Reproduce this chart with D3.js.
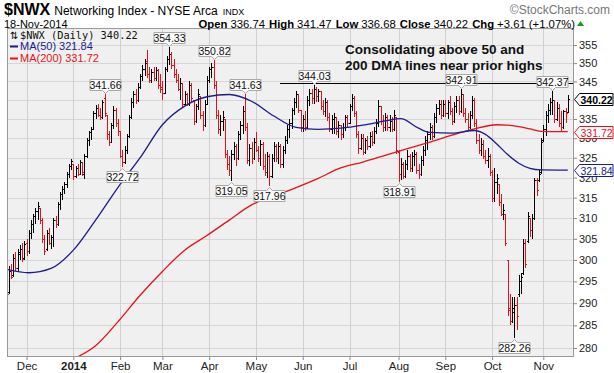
<!DOCTYPE html>
<html><head><meta charset="utf-8">
<script src="https://cdn.jsdelivr.net/npm/d3@7"></script>
<style>body{margin:0;background:#fff}svg{display:block;font-family:"Liberation Sans",Arial,sans-serif}</style>
</head><body><svg id="c" width="614" height="373"></svg>
<script>
// ---------------- data ----------------
const holidays = ["2013-11-28","2013-12-25","2014-01-01","2014-01-20","2014-02-17","2014-04-18","2014-05-26","2014-07-04","2014-09-01"];
const opens = [296.5,292.5,297.5,296.5,300.5,298.0,301.5,302.5,300.5,304.0,302.0,306.5,308.5,310.5,311.8,312.5,309.5,305.0,302.5,306.5,304.0,305.5,309.5,308.5,313.5,315.8,317.2,318.5,320.8,323.0,
323.3,320.5,322.5,321.0,323.8,321.0,325.5,329.5,331.5,332.5,336.5,338.0,336.0,335.5,340.5,336.0,331.0,329.0,333.5,337.5,334.0,
332.0,325.5,324.0,327.0,330.5,335.5,339.5,341.5,340.0,343.5,346.5,348.5,350.5,347.0,345.5,347.5,346.0,348.0,344.0,
343.5,342.0,348.5,351.0,352.5,349.5,347.0,345.5,343.0,344.5,339.0,341.5,339.0,344.0,340.0,334.5,338.5,341.0,336.0,333.5,339.0,
345.5,348.5,349.0,344.0,336.0,332.5,334.5,335.0,326.0,323.5,322.0,326.0,328.0,325.0,331.0,333.5,337.0,333.0,324.5,327.5,325.0,
329.0,327.0,325.0,328.5,323.0,321.5,325.5,320.5,325.0,328.0,325.0,328.0,323.5,327.0,329.5,332.5,334.0,337.5,339.5,341.5,337.5,
333.0,335.0,333.0,340.0,342.0,340.5,343.0,341.0,342.5,338.5,337.0,339.5,335.5,332.5,335.0,335.5,332.0,333.5,331.0,333.0,335.5,
334.0,338.5,340.5,336.5,331.0,327.5,330.0,326.5,329.5,328.0,330.5,329.0,332.0,334.0,338.5,334.5,333.0,335.5,333.0,334.5,332.5,335.5,
326.5,321.0,323.5,320.5,323.5,325.5,322.5,325.5,326.0,322.0,321.0,324.5,327.0,329.5,331.0,333.0,330.5,335.5,338.0,339.0,336.0,
339.0,336.5,339.5,337.0,334.5,338.5,340.0,337.0,341.5,336.5,335.0,333.0,336.0,340.0,334.0,329.5,327.0,328.5,325.5,324.5,325.5,
321.5,315.0,319.0,318.5,314.0,311.0,311.0,300.0,289.0,286.0,288.0,289.5,292.0,295.0,297.0,304.0,304.5,310.0,307.0,310.0,319.5,319.5,321.5,
329.5,332.5,336.0,337.5,339.5,340.0,335.0,338.0,334.0,333.0,337.0,336.74];
const highs = [297.0,298.5,299.0,301.5,301.8,302.5,303.5,304.0,304.5,305.0,307.0,309.5,311.0,312.5,314.0,312.5,310.0,306.0,307.0,307.5,306.0,310.0,310.5,314.0,316.5,318.0,319.0,321.5,323.5,324.6,
323.5,323.0,323.5,324.5,324.0,326.0,330.0,332.0,333.0,337.0,338.7,339.0,338.0,340.0,341.66,336.0,332.0,334.0,338.5,338.0,335.0,
332.0,327.0,328.0,331.0,336.0,340.5,342.5,343.0,344.5,347.0,349.5,351.0,353.5,349.0,348.5,349.0,349.0,348.5,347.0,
345.0,349.0,352.0,354.33,353.0,351.0,348.5,347.0,346.0,344.5,342.5,342.0,345.0,344.5,340.0,339.0,343.0,341.0,337.0,340.0,346.5,
349.0,350.0,350.82,345.0,337.5,336.0,337.0,335.0,327.0,325.5,327.0,329.0,328.5,332.0,334.5,338.5,341.63,334.0,328.5,329.0,330.0,
331.5,328.0,329.5,329.0,326.0,326.5,326.0,326.0,329.0,328.5,329.0,328.5,328.0,330.5,333.5,335.0,338.0,340.5,342.5,341.5,337.5,
336.0,337.0,341.0,343.0,343.0,344.03,343.5,343.0,342.5,340.0,340.5,340.0,336.5,336.0,336.5,335.5,334.5,333.5,334.0,336.0,336.0,
339.0,341.5,341.0,337.0,332.0,331.0,331.0,330.0,330.5,331.5,332.0,333.0,335.0,340.0,338.5,336.0,336.5,336.0,336.0,335.5,337.4,335.6,
327.0,325.0,324.0,324.5,327.0,326.0,326.5,327.0,326.5,323.5,325.5,328.0,330.5,332.0,334.0,333.5,336.5,339.0,340.0,340.0,340.0,
340.0,340.0,341.0,338.0,339.5,341.0,341.0,342.91,341.5,338.0,336.5,337.0,341.0,340.5,335.0,331.0,330.0,329.5,327.0,327.5,326.0,
322.0,322.5,321.0,318.5,316.0,313.5,311.0,300.0,292.0,291.5,291.5,291.5,296.5,297.0,305.0,305.0,311.5,310.0,311.0,320.0,320.0,322.0,330.0,
333.5,337.0,339.0,340.5,342.37,340.0,339.5,339.0,337.0,337.5,338.0,341.47];
const lows = [291.5,292.0,295.5,296.0,297.5,297.5,300.0,299.5,300.0,301.0,301.5,305.0,306.5,308.5,309.5,308.5,304.0,301.2,302.0,303.5,302.5,303.0,307.5,308.0,312.0,314.5,316.0,317.5,320.0,322.0,
319.5,320.0,320.5,320.8,320.4,319.6,325.0,328.0,329.5,332.5,335.0,335.5,334.8,335.0,335.5,329.5,328.0,329.0,332.5,333.0,330.5,
325.0,322.72,323.5,326.0,330.0,335.0,338.0,339.0,339.5,343.0,345.0,346.5,346.0,344.5,344.5,345.0,345.0,343.0,342.0,
340.0,342.0,347.5,349.5,348.5,346.0,344.5,342.5,340.0,338.0,338.5,338.5,338.5,339.5,333.5,334.0,337.5,335.0,332.0,333.0,339.0,
344.5,346.0,343.0,335.0,331.0,330.5,332.0,325.0,322.0,320.5,319.05,324.5,323.0,324.5,329.5,331.0,332.0,323.5,323.0,323.5,324.5,
326.5,324.0,323.0,322.0,320.5,320.0,317.96,320.0,324.0,324.0,323.5,322.5,322.5,326.0,328.5,330.0,332.5,336.0,338.0,336.5,331.5,
331.5,332.0,332.5,338.5,339.0,339.0,339.5,339.5,337.5,336.0,335.5,334.5,331.5,331.0,331.0,330.9,330.0,329.5,330.0,332.0,333.0,
334.0,337.0,335.5,330.0,326.0,327.0,325.6,326.0,327.0,327.5,328.0,328.5,331.0,333.0,333.5,331.5,332.0,332.0,331.5,331.5,332.0,326.0,
318.91,319.5,319.6,320.0,322.0,321.5,321.5,323.0,321.0,319.6,320.5,323.0,325.5,327.0,329.5,329.5,330.0,334.0,336.0,335.0,335.5,
335.5,335.0,336.0,333.5,334.0,336.5,336.0,336.5,335.5,334.0,332.0,332.5,335.0,333.0,328.5,326.0,325.5,324.6,323.5,322.5,320.5,
314.0,314.0,316.0,313.0,310.5,309.5,303.2,287.0,285.0,285.5,282.26,284.0,291.5,292.0,296.5,298.0,304.0,305.5,305.0,309.5,315.5,319.0,321.0,
329.0,330.5,334.0,336.0,336.0,334.0,334.5,333.0,331.5,332.5,334.0,336.68];
const closes = [292.0,297.5,296.0,300.5,298.0,301.8,302.5,300.2,303.8,302.0,306.5,308.5,310.5,311.8,313.0,309.5,305.0,302.0,306.5,304.0,305.5,309.5,308.5,313.5,315.8,317.2,318.5,320.8,323.0,324.2,
320.5,322.5,321.0,323.8,321.5,325.5,329.5,331.5,332.5,336.5,338.0,336.0,335.5,339.5,336.5,331.0,329.0,333.5,337.5,334.0,332.0,
325.5,324.0,327.0,330.5,335.5,339.5,341.5,340.0,343.5,346.5,348.5,350.0,347.0,345.5,347.5,346.0,348.0,344.0,343.0,
342.0,348.5,351.0,352.5,349.5,347.0,345.5,343.0,344.5,339.0,341.5,339.0,344.0,340.5,334.5,338.5,341.5,336.0,333.5,339.0,345.5,
348.5,349.0,344.0,336.0,332.5,334.5,335.5,326.0,323.5,322.0,326.0,328.0,325.0,331.0,333.5,337.0,333.0,324.5,327.5,325.0,329.0,
327.0,325.0,328.5,323.0,321.5,325.5,320.5,325.0,328.0,325.0,328.0,323.5,327.0,329.5,332.5,334.0,337.5,339.5,341.5,337.5,333.0,
335.0,333.0,340.0,342.0,340.5,343.0,341.0,342.5,338.5,337.0,339.5,335.5,332.5,335.0,335.5,332.0,333.5,331.0,333.0,335.5,334.0,
338.5,340.5,336.5,331.0,327.5,330.0,326.5,329.5,328.0,330.5,329.0,332.0,334.0,338.5,334.5,333.0,335.5,333.0,334.5,332.5,336.0,327.0,
321.0,323.5,320.5,323.5,325.5,322.5,325.5,326.0,322.0,321.0,324.5,327.0,329.5,331.0,333.0,330.5,335.5,338.0,339.0,336.0,339.0,
336.5,339.5,337.0,334.5,338.5,340.0,337.0,341.5,336.5,335.0,333.0,336.0,340.0,334.0,329.5,327.0,328.5,325.5,324.5,325.5,321.5,
315.0,319.0,320.0,314.0,311.0,312.0,304.0,288.5,286.0,289.0,289.5,287.0,295.0,296.0,304.0,299.0,310.5,307.0,310.0,319.5,317.0,321.0,329.0,
332.5,336.0,337.5,339.5,340.0,335.0,338.0,334.0,333.0,337.0,336.61,340.22];

const ma50Days   = [0,10,20,30,40,50,60,70,80,90,100,110,120,130,140,150,160,170,177,185,190,200,210,215,220,225,230,235,240,252];
const ma50Values = [297.8,297.0,298.0,302.3,309.5,317.5,325.0,333.5,338.4,340.9,341.5,339.7,335.8,332.8,332.3,332.6,333.4,334.5,335.1,332.6,331.5,331.3,332.0,331.0,328.6,325.8,323.6,322.3,321.9,321.84];
const ma200Days   = [30,40,50,60,70,80,90,100,110,120,130,140,150,160,170,180,190,200,210,220,225,230,235,240,252];
const ma200Values = [277.6,280.5,285.8,291.8,297.3,302.3,305.8,309.5,313.2,315.4,317.5,319.8,322.4,323.9,325.6,327.3,329.0,330.8,332.4,333.5,333.4,333.0,332.4,331.8,331.72];

const highTags = [[44,"341.66"],[73,"354.33"],[93,"350.82"],[107,"341.63"],[138,"344.03"],[204,"342.91"],[245,"342.37"]];
const lowTags  = [[52,"322.72"],[101,"319.05"],[118,"317.96"],[176,"318.91"],[228,"282.26"]];
const yTicks = [280,285,290,295,300,305,310,315,320,325,330,335,345,350,355];
const monthNames = ["Dec","2014","Feb","Mar","Apr","May","Jun","Jul","Aug","Sep","Oct","Nov"];
const resistance = {from:"2014-05-16", value:344.6};
const noteLines = ["Consolidating above 50 and","200 DMA lines near prior highs"];

// ---------------- chart ----------------
const fmt = d3.timeFormat("%Y-%m-%d");
const days = d3.timeDay.range(new Date(2013,10,18), new Date(2014,10,19))
  .filter(d => d.getDay()>0 && d.getDay()<6 && !holidays.includes(fmt(d)));
const keys = days.map(fmt);
const bars = keys.map((k,i)=>({k,o:opens[i],h:highs[i],l:lows[i],c:closes[i],up: i>0 ? closes[i]>=closes[i-1] : false}));

const P = {l:7,r:574,t:28,b:357};
const x = d3.scalePoint().domain(keys).range([6.5,567.8]);
const y = d3.scaleLog().domain([280,355]).range([348,45]);
const RED = "#e8101a", NAVY = "#1c1c8a";
const gridTicks = d3.range(280,360,5);

const svg = d3.select("#c");
svg.append("defs").append("clipPath").attr("id","pc").append("rect")
  .attr("x",P.l).attr("y",P.t).attr("width",P.r-P.l).attr("height",P.b-P.t);

svg.append("rect").attr("x",P.l).attr("y",P.t).attr("width",P.r-P.l).attr("height",P.b-P.t).attr("fill","#f0f0f0");

// month starts
const monthStarts = [];
keys.forEach((k,i)=>{ if(i>0 && k.slice(5,7)!==keys[i-1].slice(5,7)) monthStarts.push(k); });

const grid = svg.append("g").attr("shape-rendering","crispEdges");
grid.selectAll("line.h").data(gridTicks).join("line")
  .attr("x1",P.l).attr("x2",P.r).attr("y1",d=>Math.round(y(d))+0.5).attr("y2",d=>Math.round(y(d))+0.5)
  .attr("stroke","#d6d6d6");
grid.selectAll("line.v").data(monthStarts).join("line")
  .attr("y1",P.t).attr("y2",P.b).attr("x1",d=>Math.round(x(d))+0.5).attr("x2",d=>Math.round(x(d))+0.5)
  .attr("stroke","#d0d0d0");

const plot = svg.append("g").attr("clip-path","url(#pc)");

// resistance line
const ry = Math.round(y(resistance.value))+0.5;
plot.append("line").attr("x1",x(resistance.from)).attr("x2",P.r).attr("y1",ry).attr("y2",ry)
  .attr("stroke","#000").attr("stroke-width",1).attr("shape-rendering","crispEdges");

// OHLC bars
const bg = plot.append("g").attr("shape-rendering","crispEdges");
const bx = d => Math.round(x(d.k))+0.5;
bg.selectAll("line.hl").data(bars).join("line")
  .attr("x1",bx).attr("x2",bx).attr("y1",d=>y(d.h)).attr("y2",d=>y(d.l))
  .attr("stroke",d=>d.up?"#000":RED);
bg.selectAll("line.o").data(bars).join("line")
  .attr("x1",d=>bx(d)-1.5).attr("x2",d=>bx(d)).attr("y1",d=>Math.round(y(d.o))+0.5).attr("y2",d=>Math.round(y(d.o))+0.5)
  .attr("stroke",d=>d.up?"#000":RED);
bg.selectAll("line.c").data(bars).join("line")
  .attr("x1",d=>bx(d)).attr("x2",d=>bx(d)+1.5).attr("y1",d=>Math.round(y(d.c))+0.5).attr("y2",d=>Math.round(y(d.c))+0.5)
  .attr("stroke",d=>d.up?"#000":RED);

// moving averages
const ma = (days,vals)=>days.map((d,i)=>[x(keys[d]),y(vals[i])]);
const line = d3.line().curve(d3.curveMonotoneX);
plot.append("path").attr("d",line(ma(ma200Days,ma200Values))).attr("fill","none").attr("stroke",RED).attr("stroke-width",1.3);
plot.append("path").attr("d",line(ma(ma50Days,ma50Values))).attr("fill","none").attr("stroke",NAVY).attr("stroke-width",1.3);

// plot frame
svg.append("rect").attr("x",P.l+0.5).attr("y",P.t+0.5).attr("width",P.r-P.l-1).attr("height",P.b-P.t-1)
  .attr("fill","none").attr("stroke","#999").attr("shape-rendering","crispEdges");

// high / low tags
function tag(cx, tipY, text, above){
  const w=31,h=11,g=svg.append("g");
  cx = Math.round(cx)+0.5;
  if(above){
    const b = Math.round(tipY-4)+0.5, t=b-h;
    g.append("path").attr("d",`M${cx-w/2},${t}H${cx+w/2}V${b}H${cx+3}L${cx},${b+3}L${cx-3},${b}H${cx-w/2}Z`)
      .attr("fill","#fafafa").attr("stroke","#a8a8a8");
    g.append("text").attr("x",cx).attr("y",b-2).attr("text-anchor","middle").attr("font-size",10.5).attr("fill","#111").text(text);
  } else {
    const t = Math.round(tipY+4)+0.5, b=t+h;
    g.append("path").attr("d",`M${cx-w/2},${t}H${cx-3}L${cx},${t-3}L${cx+3},${t}H${cx+w/2}V${b}H${cx-w/2}Z`)
      .attr("fill","#fafafa").attr("stroke","#a8a8a8");
    g.append("text").attr("x",cx).attr("y",b-2).attr("text-anchor","middle").attr("font-size",10.5).attr("fill","#111").text(text);
  }
}
highTags.forEach(([i,t])=>tag(x(keys[i]), y(highs[i]), t, true));
lowTags.forEach(([i,t])=>tag(x(keys[i]), y(lows[i]), t, false));

// axes
const yAxis = d3.axisRight(y).tickValues(yTicks).tickFormat(d3.format("d")).tickSize(3).tickPadding(2);
const ya = svg.append("g").attr("transform",`translate(${P.r},0)`).call(yAxis);
ya.select(".domain").remove();
ya.selectAll("text").attr("font-size",11).attr("fill","#222").attr("font-family","Liberation Sans, Arial");
ya.selectAll("line").attr("stroke","#888");

const xAxis = d3.axisBottom(x).tickValues(monthStarts).tickFormat((d,i)=>monthNames[i]).tickSize(3).tickPadding(2);
const xa = svg.append("g").attr("transform",`translate(0,${P.b})`).call(xAxis);
xa.select(".domain").remove();
xa.selectAll("text").attr("font-size",11.5).attr("fill","#222").attr("font-family","Liberation Sans, Arial")
  .attr("font-weight",(d,i)=>monthNames[i]==="2014"?"bold":"normal");
xa.selectAll("line").attr("stroke","#888");

// right value boxes
function valBox(v, color, bold){
  const cy = Math.round(y(v))+0.5, h=12, x0=574.5, x1=579.5, x2=613;
  svg.append("path").attr("d",`M${x0},${cy}L${x1},${cy-h/2}H${x2}V${cy+h/2}H${x1}Z`)
    .attr("fill","#fff").attr("stroke",color);
  svg.append("text").attr("x",580.5).attr("y",cy+4).attr("font-size",10.5).attr("fill",color)
    .attr("font-weight",bold?"bold":"normal").text(d3.format(".2f")(v));
}
valBox(ma50Values[ma50Values.length-1], NAVY, false);
valBox(ma200Values[ma200Values.length-1], RED, false);
valBox(closes[closes.length-1], "#000", true);

// header
const hdr = svg.append("g");
const t1 = hdr.append("text").attr("x",4).attr("y",15);
t1.append("tspan").attr("font-size",16).attr("font-weight","bold").text("$NWX");
t1.append("tspan").attr("font-size",12).attr("dx",4).text("Networking Index - NYSE Arca");
t1.append("tspan").attr("font-size",9).attr("dx",5).text("INDX");
hdr.append("text").attr("x",610).attr("y",14).attr("text-anchor","end").attr("font-size",12).attr("fill","#777").text("©StockCharts.com");
hdr.append("text").attr("x",4).attr("y",27.5).attr("font-size",11).text("18-Nov-2014");
const last = closes.length-1;
const chg = closes[last]-closes[last-1];
const t2 = hdr.append("text").attr("x",575).attr("y",27.5).attr("text-anchor","end").attr("font-size",11.3);
const parts = [["Open",opens[last]],["High",highs[last]],["Low",lows[last]],["Close",closes[last]]];
parts.forEach(([k,v],i)=>{
  t2.append("tspan").attr("font-weight","bold").attr("dx",i?4:0).text(k);
  t2.append("tspan").attr("dx",3).text(d3.format(".2f")(v));
});
t2.append("tspan").attr("font-weight","bold").attr("dx",4).text("Chg");
t2.append("tspan").attr("dx",3).text(`+${d3.format(".2f")(chg)} (+${d3.format(".2f")(chg/closes[last-1]*100)}%)`);
hdr.append("path").attr("d","M577,26L580.5,21L584,26Z").attr("fill","#1a9a1a");

// legend
const lg = svg.append("g");
lg.append("text").attr("x",10).attr("y",39).attr("font-size",10).attr("font-family","DejaVu Sans").text("⇅");
lg.append("text").attr("x",20).attr("y",39).attr("font-size",10.3).attr("font-family","DejaVu Sans Mono").attr("fill","#111")
  .text(`$NWX (Daily) ${d3.format(".2f")(closes[last])}`);
lg.append("line").attr("x1",10).attr("x2",18).attr("y1",46.5).attr("y2",46.5).attr("stroke",NAVY).attr("stroke-width",2);
lg.append("text").attr("x",20).attr("y",50).attr("font-size",11).attr("fill",NAVY).text(`MA(50) ${d3.format(".2f")(ma50Values[ma50Values.length-1])}`);
lg.append("line").attr("x1",10).attr("x2",18).attr("y1",58.5).attr("y2",58.5).attr("stroke",RED).attr("stroke-width",2);
lg.append("text").attr("x",20).attr("y",62).attr("font-size",11).attr("fill",RED).text(`MA(200) ${d3.format(".2f")(ma200Values[ma200Values.length-1])}`);

// annotation
noteLines.forEach((t,i)=>svg.append("text").attr("x",345).attr("y",54+i*16).attr("font-size",13.5)
  .attr("font-weight","bold").attr("fill","#111").text(t));
</script></body></html>
